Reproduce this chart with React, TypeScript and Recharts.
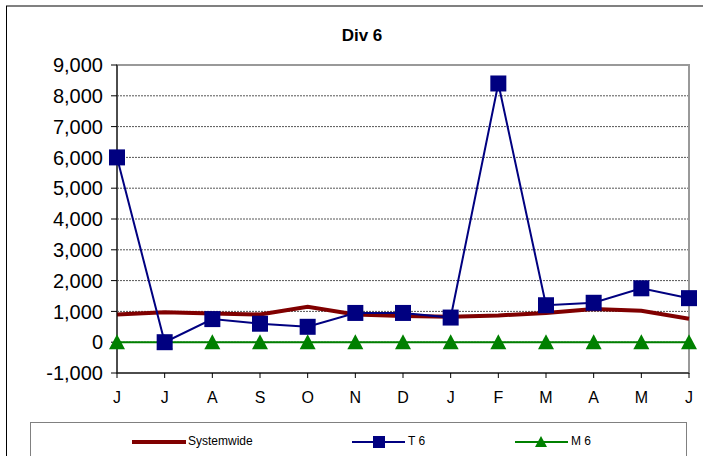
import { LineChart, Line, XAxis, YAxis, CartesianGrid, ReferenceArea } from "recharts";

const months = ["J", "J", "A", "S", "O", "N", "D", "J", "F", "M", "A", "M", "J"];
const systemwide = [900, 970, 930, 900, 1150, 900, 850, 830, 870, 950, 1080, 1020, 760];
const t6 = [6000, 0, 750, 600, 500, 950, 950, 800, 8400, 1200, 1280, 1750, 1430];
const m6 = [0, 0, 0, 0, 0, 0, 0, 0, 0, 0, 0, 0, 0];
const yTicks = [-1000, 0, 1000, 2000, 3000, 4000, 5000, 6000, 7000, 8000, 9000];

const data = months.map((m, i) => ({
  idx: i,
  month: m,
  systemwide: systemwide[i],
  t6: t6[i],
  m6: m6[i],
}));

const FONT = "'Liberation Sans', Arial, sans-serif";

const SquareDot = (props: any) => {
  const { cx, cy } = props;
  if (cx == null || cy == null) return null;
  return <rect x={cx - 8} y={cy - 8} width={16} height={16} fill="#000080" />;
};

const TriangleDot = (props: any) => {
  const { cx, cy } = props;
  if (cx == null || cy == null) return null;
  return <path d={`M${cx},${cy - 8} L${cx + 8},${cy + 7} L${cx - 8},${cy + 7} Z`} fill="#008000" />;
};

const App = () => {
  return (
    <div style={{ position: "absolute", left: 0, top: 0, width: 703, height: 456, background: "#fff", overflow: "hidden", fontFamily: FONT }}>
      {/* outer frame */}
      <div style={{ position: "absolute", left: 6, top: 5, width: 697, height: 2, background: "#808080" }} />
      <div style={{ position: "absolute", left: 6, top: 6, width: 1, height: 450, background: "#000" }} />

      <div style={{ position: "absolute", left: 0, top: 26, width: 724, textAlign: "center", fontSize: 17, fontWeight: "bold" }}>
        Div 6
      </div>

      <div style={{ position: "absolute", left: 0, top: 0 }}>
        <LineChart width={703} height={410} data={data} margin={{ top: 65, right: 14, bottom: 7, left: 0 }}>
          <CartesianGrid horizontal vertical={false} stroke="#555" strokeDasharray="2 1" />
          <ReferenceArea x1={0} x2={12} y1={-1000} y2={9000} fill="none" stroke="#999" strokeWidth={2} ifOverflow="visible" />
          <XAxis
            dataKey="idx"
            type="number"
            domain={[0, 12]}
            ticks={data.map((d) => d.idx)}
            tickFormatter={(v: number) => months[v]}
            height={30}
            stroke="#000"
            tickSize={5}
            tickMargin={14}
            tick={{ fill: "#000", fontSize: 16, fontFamily: FONT }}
            interval={0}
          />
          <YAxis
            domain={[-1000, 9000]}
            ticks={yTicks}
            width={117}
            stroke="#000"
            tickSize={6}
            tickMargin={8}
            tickFormatter={(v: number) => v.toLocaleString("en-US")}
            tick={{ fill: "#000", fontSize: 20, fontFamily: FONT }}
            interval={0}
          />
          <Line dataKey="systemwide" stroke="#800000" strokeWidth={4} dot={false} isAnimationActive={false} />
          <Line dataKey="m6" stroke="#008000" strokeWidth={2} dot={<TriangleDot />} isAnimationActive={false} />
          <Line dataKey="t6" stroke="#000080" strokeWidth={2} dot={<SquareDot />} isAnimationActive={false} />
        </LineChart>
      </div>

      {/* legend */}
      <div style={{ position: "absolute", left: 30, top: 422, width: 657, height: 50, border: "1px solid #808080", boxSizing: "border-box" }} />
      <svg style={{ position: "absolute", left: 0, top: 432 }} width={703} height={20}>
        <line x1={132} x2={186} y1={10} y2={10} stroke="#800000" strokeWidth={4} />
        <line x1={352} x2={405} y1={10} y2={10} stroke="#000080" strokeWidth={2} />
        <rect x={373} y={4} width={12} height={12} fill="#000080" />
        <line x1={515} x2={568} y1={10} y2={10} stroke="#008000" strokeWidth={2} />
        <path d="M541,4 L547,15 L535,15 Z" fill="#008000" />
      </svg>
      <div style={{ position: "absolute", left: 188, top: 434, fontSize: 12 }}>Systemwide</div>
      <div style={{ position: "absolute", left: 408, top: 434, fontSize: 12 }}>T 6</div>
      <div style={{ position: "absolute", left: 571, top: 434, fontSize: 12 }}>M 6</div>
    </div>
  );
};

export default App;
